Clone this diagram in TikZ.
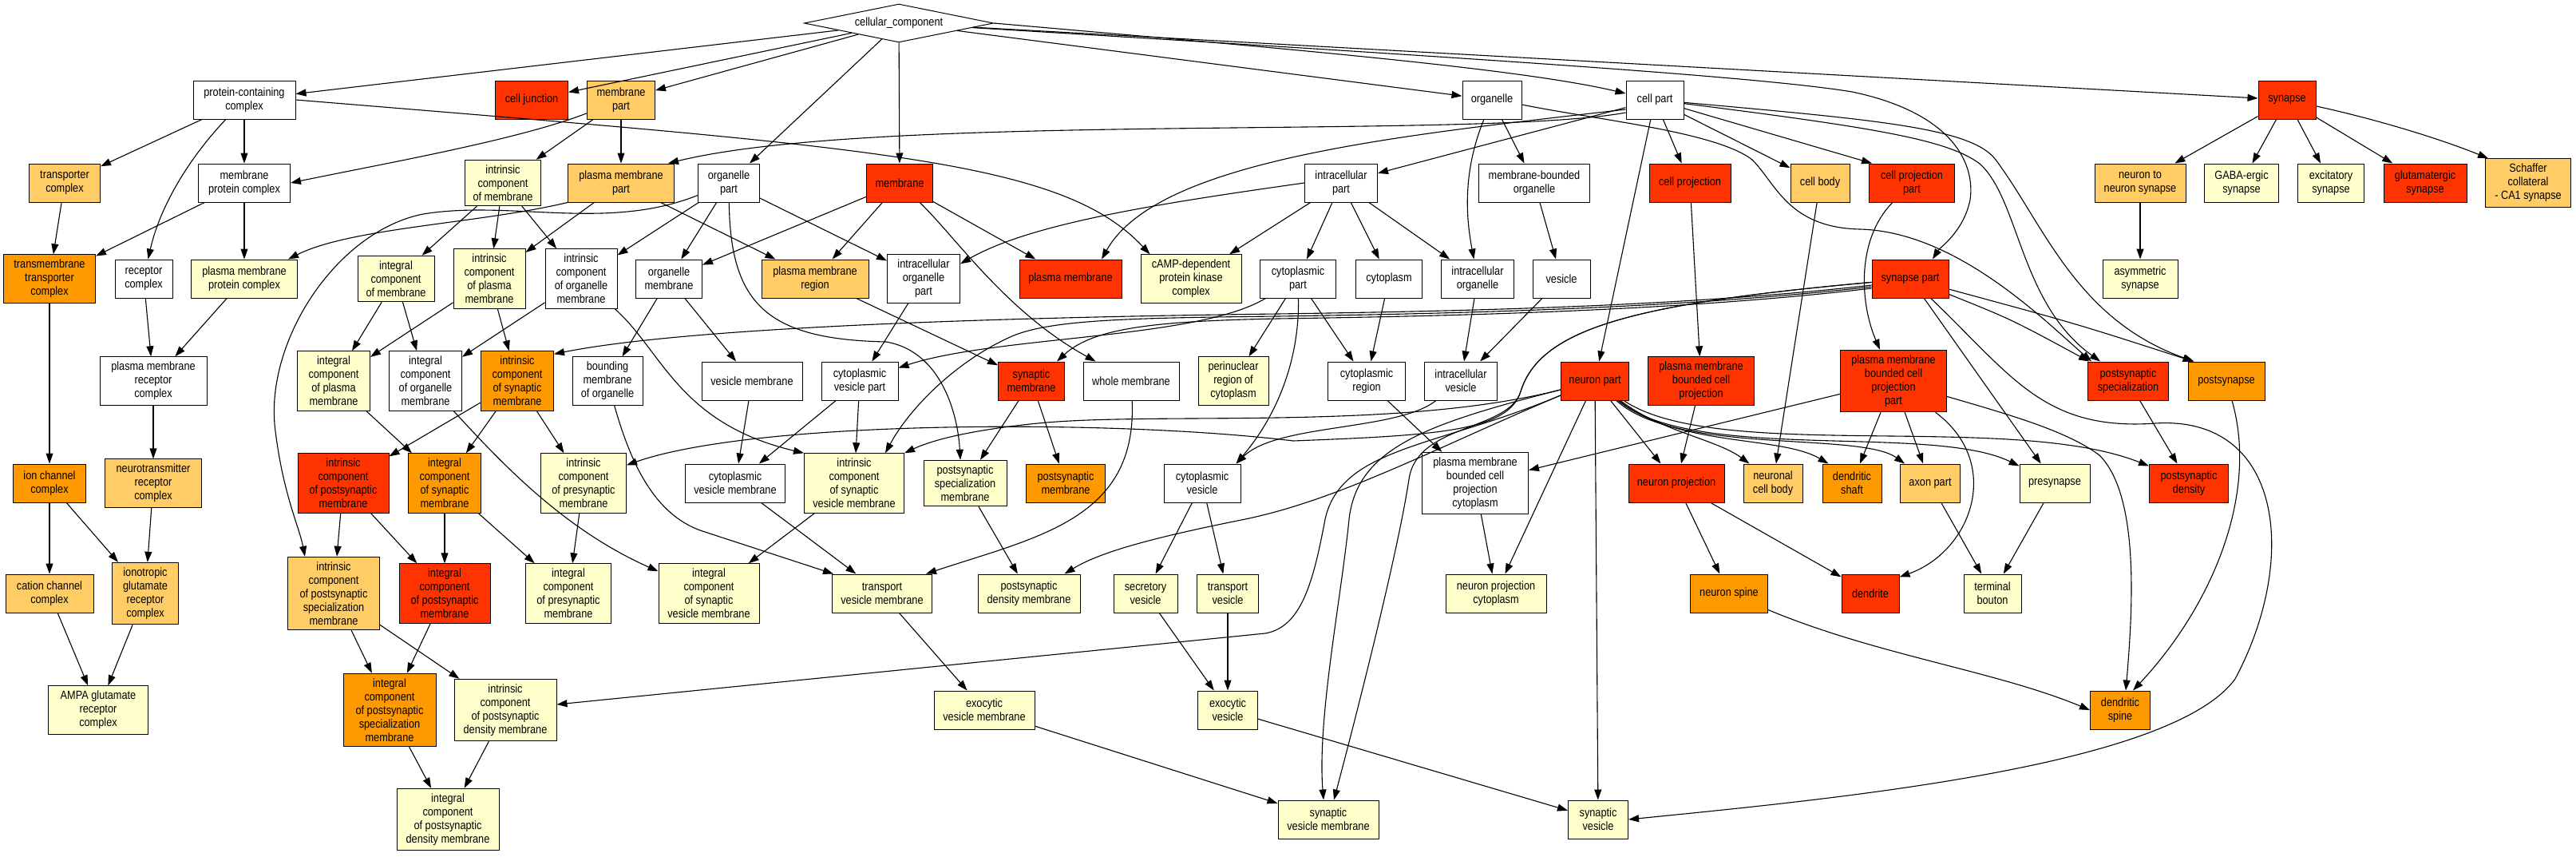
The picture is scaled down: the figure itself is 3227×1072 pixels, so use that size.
\documentclass[tikz,border=0pt]{standalone}
\usepackage{fontspec}
\newfontfamily\gofam{Liberation Sans}[FakeStretch=0.86]
\newcommand{\gofont}{\gofam\fontsize{14.8}{17}\selectfont}
\usetikzlibrary{arrows.meta,shapes.geometric}
\definecolor{cHot}{HTML}{FF3300}
\definecolor{cMid}{HTML}{FF9900}
\definecolor{cLight}{HTML}{FFCC66}
\definecolor{cPale}{HTML}{FFFFCC}

\begin{document}
\begin{tikzpicture}[x=1pt,y=-1pt,
  term/.style={draw=black, line width=1pt, align=center, font=\gofont, minimum height=48, inner xsep=2pt, inner ysep=6.3pt},
  nwhite/.style={term, fill=white},
  npale/.style={term, fill=cPale},
  nlight/.style={term, fill=cLight},
  nmid/.style={term, fill=cMid},
  nhot/.style={term, fill=cHot},
  isa/.style={-{Triangle[length=13pt,width=9pt]}, line width=1.1pt}]

\fill[white] (0,0) rectangle (3227,1072);
\useasboundingbox (0,0) rectangle (3227,1072);

% root
\node[diamond, draw=black, line width=1pt, fill=white, font=\gofont, minimum width=237, minimum height=48, inner sep=0pt, aspect=5] (cc) at (1126,29) {cellular\_component};

% level 1
\node[nwhite, minimum width=128] (pcc) at (306,125) {protein-containing\\complex};
\node[nhot, minimum width=91] (cellj) at (666,125) {cell junction};
\node[nlight, minimum width=85] (mempart) at (778,125) {membrane\\part};
\node[nwhite, minimum width=74] (organelle) at (1869,125) {organelle};
\node[nwhite, minimum width=72] (cellpart) at (2073,125) {cell part};
\node[nhot, minimum width=72] (synapse) at (2865,125) {synapse};

% level 2
\node[nlight, minimum width=89] (transc) at (81,229) {transporter\\complex};
\node[nwhite, minimum width=115] (mpc) at (306,229) {membrane\\protein complex};
\node[npale, minimum width=95] (icm) at (630,229) {intrinsic\\component\\of membrane};
\node[nlight, minimum width=133] (pmpart) at (778,229) {plasma membrane\\part};
\node[nwhite, minimum width=77] (orgpart) at (913,229) {organelle\\part};
\node[nhot, minimum width=83] (membrane) at (1127,229) {membrane};
\node[nwhite, minimum width=91] (icpart) at (1680,229) {intracellular\\part};
\node[nwhite, minimum width=139] (mbo) at (1922,229) {membrane-bounded\\organelle};
\node[nhot, minimum width=102] (cellproj) at (2117,229) {cell projection};
\node[nlight, minimum width=74] (cellbody) at (2280,229) {cell body};
\node[nhot, minimum width=107] (cppart) at (2395,229) {cell projection\\part};
\node[nlight, minimum width=114] (n2n) at (2681,229) {neuron to\\neuron synapse};
\node[npale, minimum width=93] (gaba) at (2808,229) {GABA-ergic\\synapse};
\node[npale, minimum width=83] (excit) at (2920,229) {excitatory\\synapse};
\node[nhot, minimum width=104] (glut) at (3038,229) {glutamatergic\\synapse};
\node[nlight, minimum width=107] (schaffer) at (3167,229) {Schaffer\\collateral\\- CA1 synapse};

% level 3
\node[nmid, minimum width=115] (tmtc) at (62,349) {transmembrane\\transporter\\complex};
\node[nwhite, minimum width=72] (recc) at (180,349) {receptor\\complex};
\node[npale, minimum width=133] (pmpc) at (306,349) {plasma membrane\\protein complex};
\node[npale, minimum width=96] (intcm) at (496,349) {integral\\component\\of membrane};
\node[npale, minimum width=90] (icpm) at (613,349) {intrinsic\\component\\of plasma\\membrane};
\node[nwhite, minimum width=90] (icom) at (728,349) {intrinsic\\component\\of organelle\\membrane};
\node[nwhite, minimum width=83] (orgmem) at (838,349) {organelle\\membrane};
\node[nlight, minimum width=134] (pmreg) at (1021,349) {plasma membrane\\region};
\node[nwhite, minimum width=91] (icorgpart) at (1157,349) {intracellular\\organelle\\part};
\node[nhot, minimum width=128] (plasmem) at (1341,349) {plasma membrane};
\node[npale, minimum width=126] (camp) at (1492,349) {cAMP-dependent\\protein kinase\\complex};
\node[nwhite, minimum width=95] (cytpart) at (1626,349) {cytoplasmic\\part};
\node[nwhite, minimum width=83] (cytoplasm) at (1740,349) {cytoplasm};
\node[nwhite, minimum width=91] (icorg) at (1851,349) {intracellular\\organelle};
\node[nwhite, minimum width=72] (vesicle) at (1956,349) {vesicle};
\node[nhot, minimum width=96] (synpart) at (2393,349) {synapse part};
\node[npale, minimum width=94] (asym) at (2681,349) {asymmetric\\synapse};

% level 4
\node[nwhite, minimum width=134] (pmrc) at (192,477) {plasma membrane\\receptor\\complex};
\node[npale, minimum width=91] (intcpm) at (418,477) {integral\\component\\of plasma\\membrane};
\node[nwhite, minimum width=91] (intcom) at (533,477) {integral\\component\\of organelle\\membrane};
\node[nmid, minimum width=91] (icsm) at (648,477) {intrinsic\\component\\of synaptic\\membrane};
\node[nwhite, minimum width=88] (bmo) at (761,477) {bounding\\membrane\\of organelle};
\node[nwhite, minimum width=126] (vesmem) at (942,477) {vesicle membrane};
\node[nwhite, minimum width=96] (cvpart) at (1077,477) {cytoplasmic\\vesicle part};
\node[nhot, minimum width=83] (synmem) at (1292,477) {synaptic\\membrane};
\node[nwhite, minimum width=120] (wholemem) at (1417,477) {whole membrane};
\node[npale, minimum width=88] (perinuc) at (1545,477) {perinuclear\\region of\\cytoplasm};
\node[nwhite, minimum width=97] (cytreg) at (1712,477) {cytoplasmic\\region};
\node[nwhite, minimum width=91] (icves) at (1830,477) {intracellular\\vesicle};
\node[nhot, minimum width=85] (neuronpart) at (1998,477) {neuron part};
\node[nhot, minimum width=133] (pmbcp) at (2131,477) {plasma membrane\\bounded cell\\projection};
\node[nhot, minimum width=133] (pmbcppart) at (2372,477) {plasma membrane\\bounded cell\\projection\\part};
\node[nhot, minimum width=101] (pss) at (2666,477) {postsynaptic\\specialization};
\node[nmid, minimum width=96] (postsyn) at (2789,477) {postsynapse};

% level 5
\node[nmid, minimum width=91] (ionch) at (62,605) {ion channel\\complex};
\node[nlight, minimum width=121] (ntrc) at (192,605) {neurotransmitter\\receptor\\complex};
\node[nhot, minimum width=114] (icpsm) at (430,605) {intrinsic\\component\\of postsynaptic\\membrane};
\node[nmid, minimum width=91] (intcsm) at (557,605) {integral\\component\\of synaptic\\membrane};
\node[npale, minimum width=107] (icprm) at (731,605) {intrinsic\\component\\of presynaptic\\membrane};
\node[nwhite, minimum width=125] (cvmem) at (921,605) {cytoplasmic\\vesicle membrane};
\node[npale, minimum width=125] (icsvm) at (1070,605) {intrinsic\\component\\of synaptic\\vesicle membrane};
\node[npale, minimum width=104] (pssmem) at (1209,605) {postsynaptic\\specialization\\membrane};
\node[nmid, minimum width=99] (psmem) at (1335,605) {postsynaptic\\membrane};
\node[nwhite, minimum width=96] (cytves) at (1506,605) {cytoplasmic\\vesicle};
\node[nwhite, minimum width=133] (pmbcpcyt) at (1848,605) {plasma membrane\\bounded cell\\projection\\cytoplasm};
\node[nhot, minimum width=120] (neuproj) at (2100,605) {neuron projection};
\node[nlight, minimum width=74] (ncb) at (2221,605) {neuronal\\cell body};
\node[nmid, minimum width=74] (dshaft) at (2320,605) {dendritic\\shaft};
\node[nlight, minimum width=75] (axonpart) at (2418,605) {axon part};
\node[npale, minimum width=88] (presyn) at (2574,605) {presynapse};
\node[nhot, minimum width=99] (psd) at (2742,605) {postsynaptic\\density};

% level 6
\node[nlight, minimum width=110] (cation) at (62,743) {cation channel\\complex};
\node[nlight, minimum width=83] (iglu) at (182,743) {ionotropic\\glutamate\\receptor\\complex};
\node[nlight, minimum width=115] (icpssm) at (418,743) {intrinsic\\component\\of postsynaptic\\specialization\\membrane};
\node[nhot, minimum width=114] (intcpsm) at (557,743) {integral\\component\\of postsynaptic\\membrane};
\node[npale, minimum width=107] (intcprm) at (712,743) {integral\\component\\of presynaptic\\membrane};
\node[npale, minimum width=126] (intcsvm) at (888,743) {integral\\component\\of synaptic\\vesicle membrane};
\node[npale, minimum width=125] (tvmem) at (1105,743) {transport\\vesicle membrane};
\node[npale, minimum width=128] (psdmem) at (1289,743) {postsynaptic\\density membrane};
\node[npale, minimum width=80] (secves) at (1435,743) {secretory\\vesicle};
\node[npale, minimum width=77] (transves) at (1538,743) {transport\\vesicle};
\node[npale, minimum width=126] (npcyt) at (1874,743) {neuron projection\\cytoplasm};
\node[nmid, minimum width=97] (nspine) at (2166,743) {neuron spine};
\node[nhot, minimum width=72] (dendrite) at (2343,743) {dendrite};
\node[npale, minimum width=72] (bouton) at (2496,743) {terminal\\bouton};

% level 7
\node[npale, minimum width=125] (ampa) at (123,889) {AMPA glutamate\\receptor\\complex};
\node[nmid, minimum width=116] (intcpssm) at (488,889) {integral\\component\\of postsynaptic\\specialization\\membrane};
\node[npale, minimum width=128] (icpsdm) at (633,889) {intrinsic\\component\\of postsynaptic\\density membrane};
\node[npale, minimum width=126] (exvm) at (1233,889) {exocytic\\vesicle membrane};
\node[npale, minimum width=75] (exves) at (1538,889) {exocytic\\vesicle};
\node[nmid, minimum width=75] (dspine) at (2656,889) {dendritic\\spine};

% level 8
\node[npale, minimum width=128] (intcpsdm) at (561,1026) {integral\\component\\of postsynaptic\\density membrane};
\node[npale, minimum width=126] (svm) at (1664,1026) {synaptic\\vesicle membrane};
\node[npale, minimum width=75] (synves) at (2002,1026) {synaptic\\vesicle};

% edges from the root
\draw[isa] (cc) -- (pcc);
\draw[isa] (cc) -- (cellj);
\draw[isa] (cc) -- (mempart);
\draw[isa] (cc) -- (orgpart);
\draw[isa] (cc) -- (membrane);
\draw[isa] (cc) -- (organelle);
\draw[isa] (cc.east) .. controls (1600,60) and (1900,85) .. ([yshift=8]cellpart.west);
\draw[isa] (cc) -- (synapse);
\draw[isa] (cc) .. controls (1800,70) and (2200,95) .. (2320,115) .. controls (2440,140) and (2475,200) .. (2468,250) .. controls (2460,290) and (2430,310) .. ([xshift=28]synpart.north);

% level 1 parents
\draw[isa] (pcc) -- (transc);
\draw[isa] (pcc) -- (mpc);
\draw[isa] (pcc) .. controls (235,200) and (200,260) .. (recc);
\draw[isa] (pcc.east) .. controls (1100,185) and (1330,200) .. ([xshift=12]camp.north west);
\draw[isa] (mempart) .. controls (650,175) and (480,205) .. (mpc.east);
\draw[isa] (mempart) -- (icm);
\draw[isa] (mempart) -- (pmpart);
\draw[isa] ([yshift=-16]cellpart.west) .. controls (1850,175) and (1100,140) .. ([xshift=-8]pmpart.north east);
\draw[isa] ([yshift=-12]cellpart.west) .. controls (1750,170) and (1450,200) .. ([xshift=39]plasmem.north);
\draw[isa] (cellpart) -- (icpart);
\draw[isa] (cellpart) -- (neuronpart);
\draw[isa] (cellpart) -- (cellproj);
\draw[isa] (cellpart) -- (cellbody);
\draw[isa] (cellpart) -- ([xshift=4]cppart.north west);
\draw[isa] (cellpart) .. controls (2350,150) and (2470,160) .. (2500,200) .. controls (2560,280) and (2600,400) .. ([xshift=8]postsyn.north west);
\draw[isa] (cellpart) .. controls (2350,160) and (2440,175) .. (2480,205) .. controls (2530,250) and (2530,380) .. ([xshift=16]pss.north west);
\draw[isa] (organelle) -- (mbo);
\draw[isa] (organelle) .. controls (1830,220) and (1838,280) .. (icorg);
\draw[isa] ([yshift=-6]organelle.east) .. controls (2000,150) and (2150,165) .. (2195,200) .. controls (2225,230) and (2240,285) .. (2330,287) .. controls (2450,290) and (2560,400) .. ([xshift=5]pss.north west);
\draw[isa] (synapse) -- (n2n);
\draw[isa] (synapse) -- (gaba);
\draw[isa] (synapse) -- (excit);
\draw[isa] (synapse) -- (glut);
\draw[isa] (synapse) .. controls (2980,150) and (3060,175) .. ([xshift=4]schaffer.north west);

% level 2 parents
\draw[isa] (transc) -- (tmtc);
\draw[isa] (mpc) -- (tmtc);
\draw[isa] (mpc) -- (pmpc);
\draw[isa] (pmpart.south west) .. controls (600,280) and (440,285) .. ([xshift=-12]pmpc.north east);
\draw[isa] (pmpart) -- (icpm);
\draw[isa] (pmpart) -- (pmreg);
\draw[isa] (icm) -- (intcm);
\draw[isa] (icm) -- (icpm);
\draw[isa] (icm) -- (icom);
\draw[isa] (orgpart) -- (icom);
\draw[isa] (orgpart) -- (orgmem);
\draw[isa] (orgpart) -- (icorgpart);
\draw[isa] (orgpart) .. controls (760,290) and (640,250) .. (530,268) .. controls (420,290) and (330,430) .. (345,540) .. controls (355,620) and (375,660) .. ([xshift=-36]icpssm.north);
\draw[isa] (orgpart) .. controls (915,380) and (960,425) .. (1110,428) .. controls (1180,440) and (1200,520) .. ([xshift=-6]pssmem.north);
\draw[isa] (membrane) -- (orgmem);
\draw[isa] (membrane) -- (pmreg);
\draw[isa] (membrane) -- (plasmem);
\draw[isa] (membrane) .. controls (1200,300) and (1260,390) .. ([xshift=16]wholemem.north west);
\draw[isa] (icpart.west) .. controls (1450,255) and (1290,280) .. ([yshift=-12]icorgpart.north east);
\draw[isa] (icpart) -- (camp);
\draw[isa] (icpart) -- (cytpart);
\draw[isa] (icpart) -- (cytoplasm);
\draw[isa] (icpart) -- (icorg);
\draw[isa] (mbo) -- (vesicle);
\draw[isa] (cellproj) -- (pmbcp);
\draw[isa] (cellbody) -- (ncb);
\draw[isa] (cppart) .. controls (2325,300) and (2330,380) .. (pmbcppart);
\draw[isa] (n2n) -- (asym);

% level 3 parents
\draw[isa] (tmtc) -- (ionch);
\draw[isa] (recc) -- (pmrc);
\draw[isa] (pmpc) -- (pmrc);
\draw[isa] (intcm) -- (intcpm);
\draw[isa] (intcm) -- (intcom);
\draw[isa] (icpm) -- (intcpm);
\draw[isa] (icpm) -- (icsm);
\draw[isa] (icom) -- (intcom);
\draw[isa] (icom) .. controls (830,440) and (850,530) .. (icsvm.north west);
\draw[isa] (orgmem) -- (bmo);
\draw[isa] (orgmem) -- (vesmem);
\draw[isa] (pmreg) -- (synmem);
\draw[isa] (icorgpart) -- (cvpart);
\draw[isa] (cytpart) .. controls (1500,425) and (1250,420) .. ([yshift=-8]cvpart.north east);
\draw[isa] (cytpart) -- (perinuc);
\draw[isa] (cytpart) -- (cytreg);
\draw[isa] (cytpart) .. controls (1628,450) and (1600,520) .. ([xshift=-6]cytves.north east);
\draw[isa] (cytoplasm) -- (cytreg);
\draw[isa] (icorg) -- (icves);
\draw[isa] (vesicle) -- (icves);

% synapse part
\draw[isa] ([yshift=-8]synpart.west) .. controls (2100,385) and (1800,390) .. (1600,393) .. controls (1200,398) and (850,412) .. ([yshift=-4]icsm.north east);
\draw[isa] ([yshift=-10]synpart.west) .. controls (2100,387) and (1800,393) .. (1600,396) .. controls (1420,398) and (1320,400) .. (1270,420) .. controls (1200,450) and (1140,510) .. ([xshift=39]icsvm.north);
\draw[isa] ([yshift=-12]synpart.west) .. controls (2100,390) and (1800,396) .. (1600,399) .. controls (1450,402) and (1370,410) .. ([xshift=-10]synmem.north east);
\draw[isa] (synpart) -- (presyn);
\draw[isa] (synpart) .. controls (2520,400) .. ([xshift=2]pss.north west);
\draw[isa] (synpart) .. controls (2600,405) .. ([xshift=7]postsyn.north west);
\draw[isa] (synpart) .. controls (2520,470) and (2560,540) .. (2700,530) .. controls (2860,520) and (2880,700) .. (2800,850) .. controls (2720,960) and (2300,1000) .. (synves.east);
\draw[isa] (synpart) .. controls (2050,380) and (1930,410) .. (1905,490) .. controls (1890,540) and (1800,545) .. (1620,552) .. controls (1400,525) and (950,525) .. ([yshift=-15]icprm.north east);
\draw[isa] (synpart) .. controls (2050,380) and (1930,410) .. (1905,490) .. controls (1890,540) and (1775,530) .. (1765,600) .. controls (1750,700) and (1690,930) .. ([xshift=7]svm.north);

% neuron part
\draw[isa] (neuronpart) .. controls (1750,540) and (1450,515) .. (1300,530) .. controls (1220,538) and (1170,550) .. (icsvm.north east);
\draw[isa] (neuronpart) .. controls (1800,560) and (1680,625) .. (1560,650) .. controls (1450,672) and (1380,690) .. ([xshift=-20]psdmem.north east);
\draw[isa] (neuronpart) .. controls (1800,560) and (1680,560) .. (1660,650) .. controls (1645,730) and (1630,785) .. (1585,793) -- ([yshift=7]icpsdm.east);
\draw[isa] (neuronpart) .. controls (1790,530) and (1700,560) .. (1690,650) .. controls (1680,750) and (1650,900) .. ([xshift=-6]svm.north);
\draw[isa] (neuronpart) -- (npcyt);
\draw[isa] (neuronpart) -- (synves);
\draw[isa] (neuronpart) -- (neuproj);
\draw[isa] (neuronpart) .. controls (2080,540) and (2150,550) .. ([xshift=8]ncb.north west);
\draw[isa] (neuronpart) .. controls (2100,560) and (2230,545) .. ([xshift=8]dshaft.north west);
\draw[isa] (neuronpart) .. controls (2100,570) and (2330,540) .. ([xshift=6]axonpart.north west);
\draw[isa] (neuronpart) .. controls (2120,580) and (2420,530) .. ([yshift=-3]presyn.north west);
\draw[isa] (neuronpart) .. controls (2150,580) and (2520,515) .. ([yshift=-3]psd.north west);

% level 4 parents
\draw[isa] (pmrc) -- (ntrc);
\draw[isa] (pmbcp) -- (neuproj);
\draw[isa] (pmbcppart) -- (pmbcpcyt);
\draw[isa] (pmbcppart) -- (dshaft);
\draw[isa] (pmbcppart) -- (axonpart);
\draw[isa] (pmbcppart) .. controls (2510,580) and (2470,690) .. ([yshift=-4]dendrite.north east);
\draw[isa] (pmbcppart) .. controls (2520,520) and (2590,540) .. (2630,570) .. controls (2680,620) and (2672,760) .. ([xshift=7]dspine.north);
\draw[isa] (pss) -- (psd);
\draw[isa] (postsyn) .. controls (2830,620) and (2770,760) .. ([xshift=16]dspine.north);
\draw[isa] (intcpm) -- (intcsm);
\draw[isa] (intcom) .. controls (620,570) and (700,660) .. ([yshift=-10]intcsvm.north west);
\draw[isa] (icsm) -- (icpsm);
\draw[isa] (icsm) -- (intcsm);
\draw[isa] (icsm) -- (icprm);
\draw[isa] (bmo) .. controls (790,580) and (820,645) .. (880,665) -- ([xshift=2]tvmem.north west);
\draw[isa] (vesmem) -- (cvmem);
\draw[isa] (cvpart) -- (cvmem);
\draw[isa] (cvpart) -- (icsvm);
\draw[isa] (synmem) -- (pssmem);
\draw[isa] (synmem) -- (psmem);
\draw[isa] (wholemem) .. controls (1425,650) and (1300,672) .. ([xshift=-8]tvmem.north east);
\draw[isa] (cytreg) -- (pmbcpcyt);
\draw[isa] (icves) .. controls (1750,540) and (1600,530) .. ([xshift=-6]cytves.north east);

% level 5 parents
\draw[isa] (ionch) -- (cation);
\draw[isa] (ionch) -- (iglu);
\draw[isa] (ntrc) -- (iglu);
\draw[isa] (icpsm) -- (icpssm);
\draw[isa] (icpsm) -- (intcpsm);
\draw[isa] (intcsm) -- (intcpsm);
\draw[isa] (intcsm) -- (intcprm);
\draw[isa] (icprm) -- (intcprm);
\draw[isa] (cvmem) -- (tvmem);
\draw[isa] (icsvm) -- (intcsvm);
\draw[isa] (pssmem) -- (psdmem);
\draw[isa] (cytves) -- (secves);
\draw[isa] (cytves) -- (transves);
\draw[isa] (pmbcpcyt) -- (npcyt);
\draw[isa] (neuproj) -- (nspine);
\draw[isa] (neuproj) -- (dendrite);
\draw[isa] (axonpart) -- (bouton);
\draw[isa] (presyn) -- (bouton);

% level 6 and below
\draw[isa] (cation) -- (ampa);
\draw[isa] (iglu) -- (ampa);
\draw[isa] (icpssm) -- (intcpssm);
\draw[isa] (icpssm) -- (icpsdm);
\draw[isa] (intcpsm) -- (intcpssm);
\draw[isa] (tvmem) -- (exvm);
\draw[isa] (secves) -- (exves);
\draw[isa] (transves) -- (exves);
\draw[isa] (nspine) .. controls (2350,820) and (2500,840) .. (dspine.west);
\draw[isa] (intcpssm) -- (intcpsdm);
\draw[isa] (icpsdm) -- (intcpsdm);
\draw[isa] (exvm) -- (svm);
\draw[isa] (exves) -- (synves);

\end{tikzpicture}
\end{document}
